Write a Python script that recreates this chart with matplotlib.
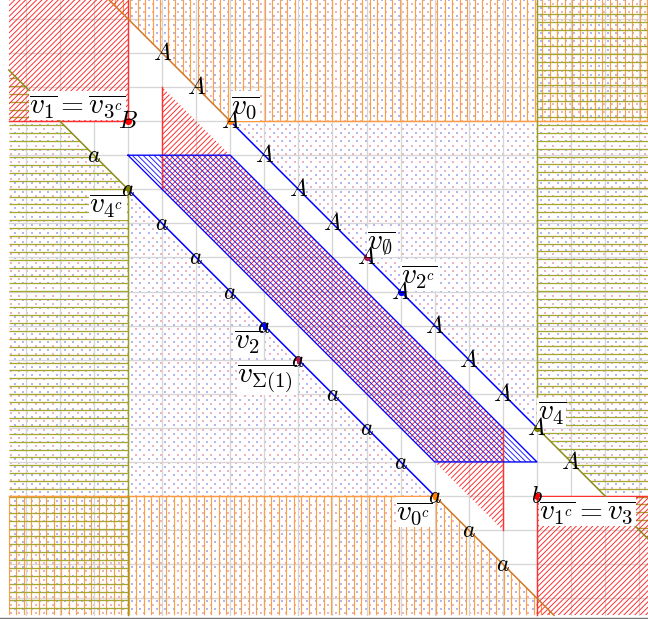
import numpy as np
import matplotlib.pyplot as plt
from matplotlib.patches import Polygon
from matplotlib.path import Path
from matplotlib.lines import Line2D
from matplotlib.collections import LineCollection

plt.rcParams['mathtext.fontset'] = 'cm'

# ---- drawing window (grid units) ----
XL, XR = -3.5, 15.5
YB, YT = -3.5, 14.6

# ---- labels along the two diagonals ----
A_x = [1, 2, 3, 4, 5, 6, 7, 8, 9, 10, 11, 12, 13]
A_y = [13, 12, 11, 10, 9, 8, 7, 6, 5, 4, 3, 2, 1]
a_x = [-1, 0, 1, 2, 3, 4, 5, 6, 7, 8, 9, 10, 11]
a_y = [10, 9, 8, 7, 6, 5, 4, 3, 2, 1, 0, -1, -2]

# ---- named vertices ----
pt_x = [3, 7, 8, 12, 0, 4, 5, 9, 0, 12]
pt_y = [11, 7, 6, 2, 9, 5, 4, 0, 11, 0]
pt_col = ['#ff8000', '#b0184a', '#0000ff', '#808000', '#808000',
          '#0000ff', '#b0184a', '#ff8000', '#ff0000', '#ff0000']
pt_lab = [r'$\overline{v_0}$', r'$\overline{v_\emptyset}$', r'$\overline{v_{2^c}}$',
          r'$\overline{v_4}$', r'$\overline{v_{4^c}}$', r'$\overline{v_2}$',
          r'$\overline{v_{\Sigma(1)}}$', r'$\overline{v_{0^c}}$',
          r'$\overline{v_1}=\overline{v_{3^c}}$',
          r'$\overline{v_{1^c}}=\overline{v_3}$']
pt_side = ['ur', 'ur', 'ur', 'ur', 'll', 'll', 'll', 'll', 'ul', 'lr']
corner_x = [0, 12]
corner_y = [11, 0]
corner_txt = ['B', 'b']

# ---- regions ----
red_tl = [(XL, 11), (0, 11), (0, YT), (XL, YT)]
red_br = [(12, 0), (XR, 0), (XR, YB), (12, YB)]
red_mid = [(1, 12), (1, 9), (11, -1), (11, 2)]
blue_band = [(0, 10), (3, 10), (12, 1), (9, 1)]
orange_top = [(3, 11), (XR, 11), (XR, YT), (14 - YT, YT)]
orange_bot = [(XL, 0), (9, 0), (9 - YB, YB), (XL, YB)]
olive_left = [(0, 9), (0, YB), (XL, YB), (XL, 9 - XL)]
olive_right = [(12, 2), (12, YT), (XR, YT), (XR, 14 - XR)]
dots_upper = [(0, 14), (0, YT), (XR, YT), (XR, 0), (14, 0)]
dots_lower = [(XL, 11), (-2, 11), (12, -3), (12, YB), (XL, YB)]

# diagonal x+y=14 and x+y=9, coloured piecewise
upper_segs = [((14 - YT, YT), (3, 11), '#d07828'),
              ((3, 11), (12, 2), '#0000ff'),
              ((12, 2), (XR, 14 - XR), '#8c8c1c')]
lower_segs = [((XL, 9 - XL), (0, 9), '#8c8c1c'),
              ((0, 9), (9, 0), '#0000ff'),
              ((9, 0), (9 - YB, YB), '#d07828')]

RED, BLUE, ORANGE, OLIVE = '#ff2020', '#1414ff', '#ffa040', '#a6a630'

W, H, DPI = 648, 619, 85
fig = plt.figure(figsize=(W / DPI, H / DPI), dpi=DPI)
ax = fig.add_axes([0, 0, 1, 1])
unit = 34.08
ax.set_xlim(-128 / unit, (W - 128) / unit)
ax.set_ylim((496 - H) / unit, 496 / unit)
ax.axis('off')

# dotted background texture
gx = np.arange(XL, XR, 0.245)
gy = np.arange(YB, YT, 0.245)
GX, GY = np.meshgrid(gx, gy)
pink = np.column_stack([GX.ravel() + 0.06, GY.ravel() + 0.06])
lav = np.column_stack([GX.ravel() + 0.1825, GY.ravel() + 0.1825])
for poly in (dots_upper, dots_lower):
    p = Path(poly + [poly[0]], closed=True)
    for pts, c in ((pink, '#f2b0c4'), (lav, '#b4b4f6')):
        m = p.contains_points(pts)
        ax.scatter(pts[m, 0], pts[m, 1], s=4.2, marker='s', c=c,
                   linewidths=0, zorder=0.5)

# grid
for gxv in range(-3, 16):
    ax.plot([gxv, gxv], [YB, YT], color='#d6d6d6', lw=1.1, zorder=1)
for gyv in range(-3, 15):
    ax.plot([XL, XR], [gyv, gyv], color='#d6d6d6', lw=1.1, zorder=1)


def hatch(poly, kind, step, color, lw):
    clip = Polygon(poly, closed=True, facecolor='none', edgecolor='none')
    ax.add_patch(clip)
    xs = [p[0] for p in poly]
    ys = [p[1] for p in poly]
    x0, x1, y0, y1 = min(xs), max(xs), min(ys), max(ys)
    segs = []
    if kind == 'v':
        for x in np.arange(x0, x1, step):
            segs.append([(x, y0), (x, y1)])
    elif kind == 'h':
        for y in np.arange(y1, y0, -step):
            segs.append([(x0, y), (x1, y)])
    elif kind == 'ne':
        for c in np.arange(y0 - x1, y1 - x0, step):
            segs.append([(x0, x0 + c), (x1, x1 + c)])
    else:
        for c in np.arange(y0 + x0, y1 + x1, step):
            segs.append([(x0, c - x0), (x1, c - x1)])
    lc = LineCollection(segs, colors=color, linewidths=lw, zorder=2)
    lc.set_clip_path(clip)
    ax.add_collection(lc)


hatch(orange_top, 'v', 0.22, ORANGE, 1.0)
hatch(orange_bot, 'v', 0.22, ORANGE, 1.0)
hatch(olive_left, 'h', 0.232, OLIVE, 1.1)
hatch(olive_right, 'h', 0.232, OLIVE, 1.1)
hatch(red_tl, 'ne', 0.16, RED, 0.75)
hatch(red_br, 'ne', 0.16, RED, 0.75)
hatch(red_mid, 'ne', 0.16, RED, 0.75)
hatch(blue_band, 'nw', 0.16, BLUE, 0.75)

# region borders
edge_lines = [
    ([XL, 0, 0], [11, 11, YT], '#ff3030'),
    ([12, 12, XR], [YB, 0, 0], '#ff3030'),
    ([1, 1], [9, 12], '#ff3030'),
    ([11, 11], [-1, 2], '#ff3030'),
    ([3, XR], [11, 11], '#ff9a40'),
    ([XL, 9], [0, 0], '#ff9a40'),
    ([0, 0], [9, YB], '#9c9c22'),
    ([12, 12], [2, YT], '#9c9c22'),
]
for xs, ys, c in edge_lines:
    ax.plot(xs, ys, color=c, lw=1.2, zorder=3)
bx = [p[0] for p in blue_band] + [blue_band[0][0]]
by = [p[1] for p in blue_band] + [blue_band[0][1]]
ax.plot(bx, by, color='#0000ff', lw=1.1, zorder=3)

for p0, p1, c in upper_segs + lower_segs:
    ax.plot([p0[0], p1[0]], [p0[1], p1[1]], color=c, lw=1.3, zorder=3.5)

# vertices
for x, y, c in zip(pt_x, pt_y, pt_col):
    ax.plot(x, y, 'o', ms=6, color=c, mec='none', zorder=4)

side = {'ur': ((0.5, 0.5), 'left', 'bottom'),
        'll': ((-1.5, -1.5), 'right', 'top'),
        'ul': ((-2, 1), 'right', 'bottom'),
        'lr': ((2, -1), 'left', 'top')}
for x, y, t, s in zip(pt_x, pt_y, pt_lab, pt_side):
    off, ha, va = side[s]
    ax.annotate(t, (x, y), xytext=off, textcoords='offset points',
                ha=ha, va=va, fontsize=25, zorder=5,
                bbox=dict(facecolor='white', edgecolor='none', pad=0.3))

tkw = dict(fontsize=20, ha='center', va='center', zorder=6)
for x, y in zip(A_x, A_y):
    ax.text(x, y, r'$A$', **tkw)
for x, y in zip(a_x, a_y):
    ax.text(x, y, r'$a$', **tkw)
for x, y, t in zip(corner_x, corner_y, corner_txt):
    ax.text(x, y, '$%s$' % t, **tkw)

fig.add_artist(Line2D([0, 1], [1.2 / H, 1.2 / H], color='#777777', lw=1.2))

fig.savefig('out.png', dpi=DPI)
